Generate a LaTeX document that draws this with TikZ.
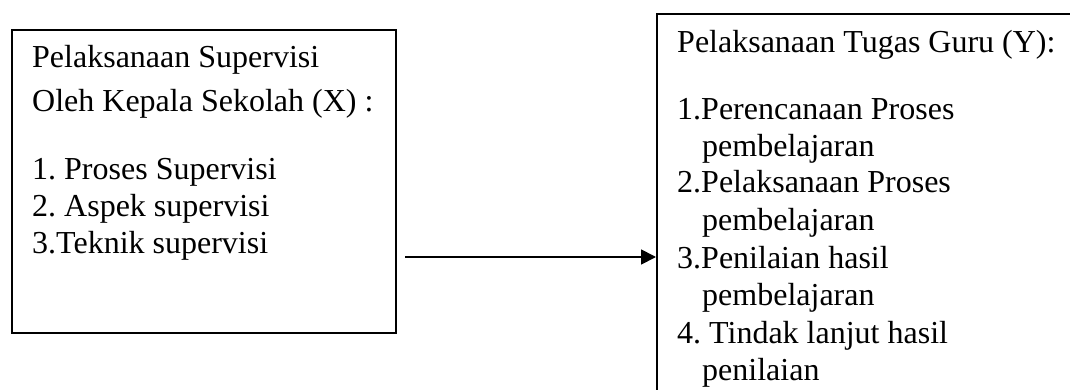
\documentclass[tikz,border=0pt]{standalone}
\usepackage{fontspec}
\setmainfont{Liberation Serif}
\usetikzlibrary{arrows.meta}
\frenchspacing
\begin{document}
\begin{tikzpicture}[x=1pt,y=-1pt,
  box/.style={draw,line width=2.2pt,inner sep=0pt,anchor=north west},
  txt/.style={anchor=base west,inner sep=0pt,font=\fontsize{32}{38}\selectfont},
  link/.style={line width=1.8pt,-{Triangle[length=15pt,width=15pt]}}]
\useasboundingbox (0,0) rectangle (1070,390);
\clip (0,0) rectangle (1070,390);
\node[box,minimum width=384pt,minimum height=303pt] (X) at (11,29) {};
\node[box,minimum width=440pt,minimum height=400pt] (Y) at (656,13) {};
\node[txt] (x1) at (32,68) {Pelaksanaan Supervisi};
\node[txt] (x2) at (32,112) {Oleh Kepala Sekolah (X) :};
\node[txt] (x3) at (32,179) {1. Proses Supervisi};
\node[txt] (x4) at (32,216) {2. Aspek supervisi};
\node[txt] (x5) at (32,253) {3.Teknik supervisi};
\node[txt] (y0) at (677,53) {Pelaksanaan Tugas Guru (Y):};
\node[txt] (y1) at (677,120) {1.Perencanaan Proses};
\node[txt] (y1b) at (702,157) {pembelajaran};
\node[txt] (y2) at (677,193) {2.Pelaksanaan Proses};
\node[txt] (y2b) at (702,230) {pembelajaran};
\node[txt] (y3) at (677,268) {3.Penilaian hasil};
\node[txt] (y3b) at (702,305) {pembelajaran};
\node[txt] (y4) at (677,343) {4. Tindak lanjut hasil};
\node[txt] (y4b) at (702,380) {penilaian};
\coordinate (s) at (405,257);
\draw[link] (s) -- (s -| Y.west);
\end{tikzpicture}
\end{document}
